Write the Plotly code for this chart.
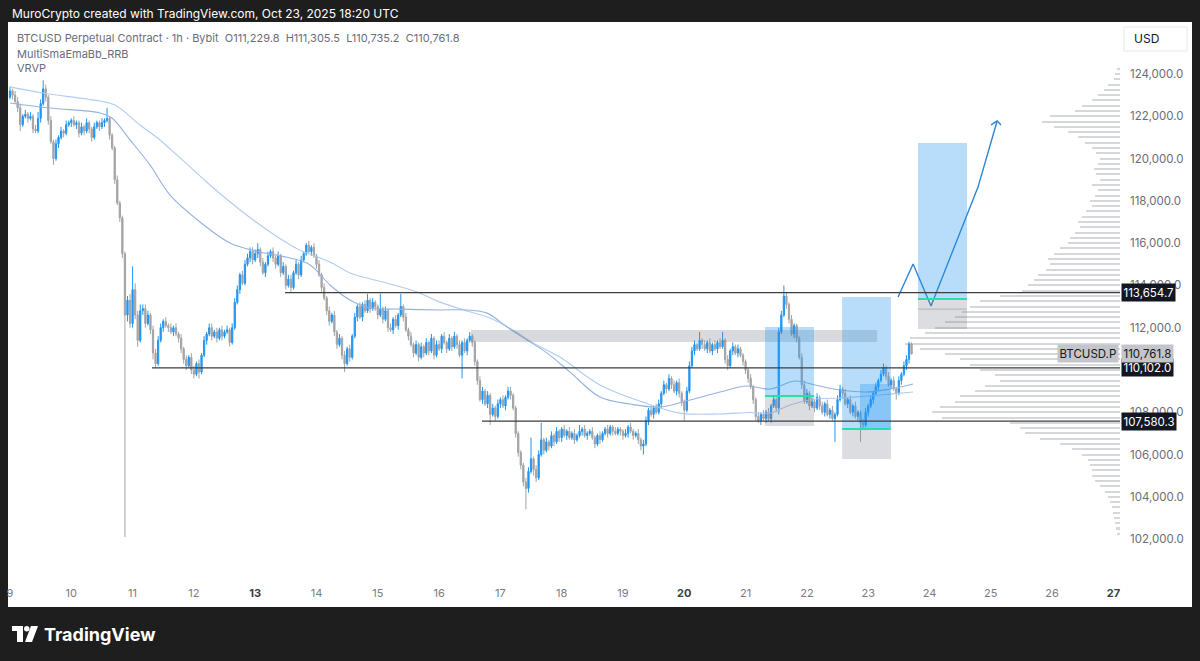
import plotly.graph_objects as go

# ---------------- data (prices in thousands USD, hourly candles from Oct 9 00:00 UTC) ----------------
open_first = 122.9
close_d09 = [123.2, 123.0, 122.7, 122.4, 121.6, 122.0, 122.1, 121.9, 122.0, 121.4, 121.3, 121.9,
             122.6, 123.3, 122.9, 121.8, 120.8, 120.0, 120.7, 121.0, 121.3, 121.2, 121.6, 121.7]
close_d10 = [121.8, 121.6, 121.7, 121.2, 121.5, 121.3, 121.7, 121.4, 121.0, 121.5, 121.7, 121.5,
             121.7, 121.8, 121.9, 121.1, 120.5, 119.0, 117.9, 117.2, 115.5, 112.6, 113.3, 112.2]
close_d11 = [113.8, 112.6, 111.4, 112.8, 112.9, 112.2, 112.6, 111.9, 110.8, 110.3, 111.4, 112.0,
             112.3, 112.1, 112.0, 111.8, 112.0, 111.7, 111.5, 111.0, 110.5, 110.2, 110.6, 110.0]
close_d12 = [109.8, 110.3, 109.9, 110.7, 111.4, 111.7, 112.0, 111.6, 111.8, 111.5, 111.9, 111.6,
             111.8, 111.9, 111.3, 112.0, 113.2, 113.8, 114.5, 114.1, 115.0, 115.3, 115.6, 115.2]
close_d13 = [115.5, 115.7, 115.1, 114.6, 115.0, 115.4, 115.6, 115.3, 115.0, 115.4, 114.6, 114.9,
             114.0, 114.3, 113.9, 114.6, 115.0, 114.5, 115.2, 115.5, 115.9, 115.6, 115.8, 115.4]
close_d14 = [115.0, 114.5, 113.9, 113.4, 112.8, 112.3, 112.6, 111.8, 111.2, 111.5, 110.7, 110.3,
             111.0, 110.6, 111.6, 112.5, 113.0, 112.5, 113.1, 112.8, 113.3, 112.9, 113.2, 113.0]
close_d15 = [112.6, 112.9, 112.4, 112.8, 112.0, 111.9, 112.4, 112.1, 112.6, 113.0, 112.5, 111.9,
             111.6, 111.2, 110.8, 111.2, 110.6, 111.1, 110.8, 111.3, 110.9, 111.5, 110.7, 111.2]
close_d16 = [111.0, 111.6, 111.3, 111.0, 111.5, 111.1, 111.6, 111.2, 110.7, 111.3, 110.9, 111.4,
             111.6, 111.3, 110.4, 109.5, 108.6, 109.0, 108.4, 108.8, 107.9, 108.2, 107.8, 108.4]
close_d17 = [108.6, 108.3, 108.7, 109.0, 108.8, 108.2, 107.0, 106.1, 105.5, 104.7, 104.4, 105.2,
             105.8, 105.3, 104.9, 106.0, 106.7, 106.2, 106.6, 106.4, 106.9, 106.6, 107.1, 106.8]
close_d18 = [107.2, 106.9, 107.1, 106.8, 107.0, 106.7, 106.9, 107.1, 107.2, 106.9, 107.0, 107.1,
             106.8, 106.5, 106.9, 106.7, 107.0, 107.2, 107.0, 107.3, 107.1, 107.0, 107.2, 107.1]
close_d19 = [106.9, 107.0, 107.3, 107.1, 106.9, 107.0, 106.7, 106.4, 106.5, 107.6, 108.1, 107.9,
             108.2, 108.0, 108.4, 108.9, 109.3, 109.1, 109.6, 109.3, 109.0, 109.4, 108.9, 108.5]
close_d20 = [108.1, 109.0, 110.2, 110.9, 111.2, 111.0, 111.4, 111.2, 111.0, 111.3, 110.9, 111.2,
             111.0, 111.3, 111.1, 111.4, 110.5, 110.2, 110.9, 111.1, 110.8, 111.0, 110.7, 110.4]
close_d21 = [110.0, 109.6, 109.2, 108.6, 107.8, 107.6, 107.9, 107.7, 108.0, 107.7, 108.3, 108.6,
             108.2, 111.8, 112.6, 113.5, 113.1, 112.4, 111.7, 112.1, 111.5, 110.6, 109.3, 108.5]
close_d22 = [108.9, 108.3, 108.5, 108.2, 108.7, 108.3, 108.0, 108.4, 107.9, 108.1, 107.7, 107.9,
             108.6, 109.1, 108.9, 108.4, 108.6, 108.0, 108.3, 107.8, 108.0, 107.5, 107.4, 108.0]
close_d23 = [108.3, 108.6, 108.9, 109.2, 109.5, 109.8, 110.1, 109.7, 109.3, 109.5, 109.1, 108.9,
             109.5, 109.8, 110.2, 110.5, 111.2298, 110.7618]

# wick lengths above / below the body, in units of 100 USD
uw_d09 = [2,1,2,2,2,1,2,1,2,1,2,3,2,4,2,1,2,1,2,1,2,1,2,1]
lw_d09 = [1,2,1,2,3,1,1,2,1,2,1,1,2,1,2,2,1,3,1,2,1,2,1,1]
uw_d10 = [1,2,1,1,2,1,2,1,1,2,1,1,2,1,5,1,1,1,2,1,1,1,2,3]
lw_d10 = [2,1,2,2,1,2,1,2,2,1,1,2,1,2,1,2,1,2,1,2,2,105,3,2]
uw_d11 = [11,3,2,3,2,2,2,1,2,2,2,2,1,2,1,2,1,2,1,2,1,2,1,2]
lw_d11 = [2,2,3,1,2,2,1,2,3,2,1,1,2,1,2,1,2,1,2,2,2,2,1,2]
uw_d12 = [2,1,2,1,2,1,2,2,1,2,1,2,1,2,1,2,2,2,1,2,2,2,2,2]
lw_d12 = [2,1,3,1,1,2,1,2,1,2,1,2,1,1,2,1,1,1,2,1,1,1,2,2]
uw_d13 = [2,3,1,2,1,2,1,2,1,2,1,2,1,2,2,1,2,1,2,1,1,2,1,2]
lw_d13 = [1,2,2,1,2,1,1,2,2,1,2,1,2,1,2,1,1,2,1,1,1,1,2,1]
uw_d14 = [1,2,1,2,1,2,1,2,1,2,1,2,1,2,1,2,1,2,1,2,3,1,2,1]
lw_d14 = [2,1,2,1,2,2,1,2,2,1,2,4,1,2,1,1,2,1,2,1,1,2,1,2]
uw_d15 = [1,7,1,2,1,2,1,2,1,6,1,2,1,2,1,2,1,2,1,2,1,2,1,2]
lw_d15 = [2,1,2,1,2,1,2,1,2,1,2,1,2,1,2,1,2,1,2,1,2,1,2,1]
uw_d16 = [2,1,2,1,2,1,2,1,2,1,2,1,2,1,1,1,2,2,1,2,1,2,1,2]
lw_d16 = [1,2,1,2,1,2,1,2,1,11,1,2,1,2,2,2,1,2,1,2,5,1,2,1]
uw_d17 = [1,2,1,2,2,1,1,1,1,1,2,2,10,1,2,2,8,1,2,1,2,1,2,1]
lw_d17 = [2,1,2,1,2,1,2,2,2,2,10,2,1,3,2,1,1,2,1,2,1,2,1,2]
uw_d18 = [1,2,1,2,1,2,1,3,1,2,1,1,2,1,1,2,1,1,2,1,1,2,1,1]
lw_d18 = [2,1,2,1,1,2,1,1,2,1,2,1,1,2,1,2,1,1,2,1,2,1,1,2]
uw_d19 = [1,2,1,2,1,1,2,1,2,2,1,2,1,2,2,1,2,1,2,1,2,1,2,1]
lw_d19 = [2,1,2,1,2,1,2,2,4,1,2,1,2,1,1,2,1,2,1,2,1,2,2,2]
uw_d20 = [1,2,2,2,2,1,4,1,2,1,2,1,2,1,2,4,1,2,1,2,1,2,1,1]
lw_d20 = [5,1,1,1,2,1,1,2,1,2,1,2,1,2,1,1,2,2,1,2,1,2,1,2]
uw_d21 = [1,1,2,1,1,2,1,2,1,2,1,2,1,2,2,5,2,1,2,1,1,1,2,2]
lw_d21 = [2,2,1,2,2,1,2,1,2,1,2,1,2,3,1,1,2,2,1,2,2,1,2,1]
uw_d22 = [2,1,2,1,2,1,2,1,2,1,2,1,2,2,1,2,1,2,1,2,1,1,2,2]
lw_d22 = [1,2,1,2,1,2,1,2,1,2,1,11,1,1,2,1,2,1,2,1,2,9,2,1]
uw_d23 = [1,2,1,2,1,2,2,1,2,1,2,1,2,1,2,2,1,0.757]
lw_d23 = [2,1,2,1,2,1,1,2,1,2,1,3,1,2,1,2,2,0.266]

# moving averages (MultiSmaEmaBb), sampled at hour positions
ma_fast_h = [0, 15.7, 35.2, 39.9, 47.0, 54.8, 62.6, 74.4, 86.1, 97.9, 109.6, 117.5, 125.3, 133.1, 141.0,
             152.7, 168.4, 178.9, 186.8, 194.6, 202.4, 210.3, 219.3, 231.0, 242.8, 254.5, 266.2, 278.0,
             288.6, 297.6, 307.4, 315.2, 325.0, 335.6, 344.6, 353.6]
ma_fast_p = [122.63, 122.39, 122.16, 121.92, 120.88, 119.70, 118.28, 117.00, 116.01, 115.58, 115.30, 114.97,
             114.02, 113.31, 112.93, 112.88, 112.84, 112.84, 112.69, 112.03, 111.42, 110.80, 109.90, 108.72,
             108.39, 108.25, 108.58, 108.96, 109.24, 109.10, 109.48, 109.29, 109.05, 108.96, 109.10, 109.34]
ma_slow_h = [0, 12.9, 35.2, 41.1, 50.9, 58.7, 66.6, 78.3, 90.1, 101.8, 113.5, 125.3, 133.1, 146.0, 159.4,
             168.4, 178.9, 187.9, 196.9, 204.8, 215.3, 231.0, 247.8, 262.3, 278.0, 289.7, 297.6, 305.4,
             315.2, 325.0, 335.6, 344.6, 353.6]
ma_slow_p = [123.39, 123.10, 122.72, 122.53, 121.59, 120.88, 120.03, 118.75, 117.57, 116.53, 115.67, 115.11,
             114.59, 114.16, 113.69, 113.21, 112.79, 112.46, 111.89, 111.28, 110.61, 109.29, 108.48, 107.96,
             107.92, 107.99, 107.96, 108.34, 108.63, 108.67, 108.77, 108.86, 108.96]

# visible-range volume profile (row width, arbitrary units), rows from 124.25k down to 102.25k
vp_top, vp_step = 124.25, 0.25
vp_volume = [3, 5, 6, 12, 16, 22, 28, 38, 45, 70, 78, 66, 52, 42, 35, 28, 24, 20, 22, 26, 24, 20, 28, 22,
             25, 30, 28, 34, 38, 42, 40, 45, 50, 52, 60, 66, 72, 70, 74, 82, 86, 92, 98, 120, 140, 150,
             158, 165, 175, 185, 195, 210, 215, 200, 175, 160, 150, 140, 125, 120, 135, 145, 160, 165,
             180, 188, 178, 110, 100, 95, 80, 60, 48, 38, 32, 30, 28, 28, 25, 20, 15, 12, 10, 8, 7, 6,
             5, 4, 3]

# drawn levels and positions
level_prices = [113.6547, 110.102, 107.5803]
level_labels = ["113,654.7", "110,102.0", "107,580.3"]
level_start_h = [107.7, 55.6, 184.8]
last_price, last_label = 110.7618, "110,761.8"
zone = dict(h0=180.5, h1=339.5, p0=111.32, p1=111.89)
positions = [  # (start h, end h, target, entry, stop)
    (295.6, 314.8, 112.03, 108.77, 107.35),
    (325.8, 344.9, 113.45, 107.21, 105.79),
    (355.5, 374.7, 120.74, 113.36, 111.94),
]
extra_target = (332.8, 344.9, 109.34, 107.21)
arrow_h = [347.7, 353.6, 360.6, 370.0, 379.0, 386.5]
arrow_p = [113.45, 115.01, 113.03, 115.91, 118.65, 121.78]
arrowhead_h = [384.1, 386.5, 388.0]
arrowhead_p = [121.59, 121.78, 121.59]

price_ticks = [102, 104, 106, 108, 112, 114, 116, 118, 120, 122, 124]
day_ticks = list(range(9, 28))
bold_days = [13, 20, 27]

# ---------------- build ----------------
closes = (close_d09 + close_d10 + close_d11 + close_d12 + close_d13 + close_d14 + close_d15 + close_d16 +
          close_d17 + close_d18 + close_d19 + close_d20 + close_d21 + close_d22 + close_d23)
uw = (uw_d09 + uw_d10 + uw_d11 + uw_d12 + uw_d13 + uw_d14 + uw_d15 + uw_d16 + uw_d17 + uw_d18 + uw_d19 +
      uw_d20 + uw_d21 + uw_d22 + uw_d23)
lw = (lw_d09 + lw_d10 + lw_d11 + lw_d12 + lw_d13 + lw_d14 + lw_d15 + lw_d16 + lw_d17 + lw_d18 + lw_d19 +
      lw_d20 + lw_d21 + lw_d22 + lw_d23)
hours = list(range(len(closes)))
opens = [open_first] + closes[:-1]
highs = [max(o, c) + u * 0.1 for o, c, u in zip(opens, closes, uw)]
lows = [min(o, c) - l * 0.1 for o, c, l in zip(opens, closes, lw)]
vp_levels = [vp_top - i * vp_step for i in range(len(vp_volume))]

W, H = 1200, 661
ML, MR, MT, MB = 8, 80, 22, 76
PW, PH = W - ML - MR, H - MT - MB
X_RANGE = [-0.78, 434.6]
Y_RANGE = [99.83, 126.46]


def PX(px):
    return (px - ML) / PW


def PY(py):
    return (H - MB - py) / PH


FONT = "Inter, Roboto, 'Noto Sans', sans-serif"
UP, DOWN = "#2196F3", "#A3A3A6"

fig = go.Figure()

# volume profile (base x axis, reversed so rows grow leftwards from the price scale)
fig.add_trace(go.Bar(
    x=vp_volume, y=vp_levels, orientation="h", width=0.1, xaxis="x", yaxis="y",
    marker=dict(color="#d6d7db", line=dict(width=0)), hoverinfo="skip", showlegend=False))

fig.add_trace(go.Scatter(x=ma_slow_h, y=ma_slow_p, mode="lines", xaxis="x2", yaxis="y",
                         line=dict(color="#afcdf0", width=1.1, shape="spline"), hoverinfo="skip",
                         showlegend=False))
fig.add_trace(go.Scatter(x=ma_fast_h, y=ma_fast_p, mode="lines", xaxis="x2", yaxis="y",
                         line=dict(color="#95b2e0", width=1.1, shape="spline"), hoverinfo="skip",
                         showlegend=False))

fig.add_trace(go.Candlestick(
    x=hours, open=opens, high=highs, low=lows, close=closes, xaxis="x2", yaxis="y",
    increasing=dict(line=dict(color=UP, width=1), fillcolor=UP),
    decreasing=dict(line=dict(color=DOWN, width=1), fillcolor=DOWN),
    whiskerwidth=0, showlegend=False, hoverinfo="skip"))

# forecast arrow
fig.add_trace(go.Scatter(x=arrow_h, y=arrow_p, mode="lines", xaxis="x2", yaxis="y",
                         line=dict(color="#2a86d6", width=1.4), hoverinfo="skip", showlegend=False))
fig.add_trace(go.Scatter(x=arrowhead_h, y=arrowhead_p, mode="lines", xaxis="x2", yaxis="y",
                         line=dict(color="#2a86d6", width=1.4), hoverinfo="skip", showlegend=False))

shapes = []
# white chart panel
shapes.append(dict(type="rect", xref="paper", yref="paper", x0=PX(8), x1=PX(1192), y0=PY(607), y1=PY(22),
                   fillcolor="#ffffff", line=dict(width=0), layer="below"))
# supply zone
shapes.append(dict(type="rect", xref="x2", yref="y", x0=zone["h0"], x1=zone["h1"], y0=zone["p0"],
                   y1=zone["p1"], fillcolor="rgba(120,123,134,0.28)", line=dict(width=0), layer="above"))
# positions
for h0, h1, tp, en, sl in positions:
    shapes.append(dict(type="rect", xref="x2", yref="y", x0=h0, x1=h1, y0=en, y1=tp,
                       fillcolor="rgba(33,150,243,0.32)", line=dict(width=0), layer="above"))
    shapes.append(dict(type="rect", xref="x2", yref="y", x0=h0, x1=h1, y0=sl, y1=en,
                       fillcolor="rgba(120,123,134,0.26)", line=dict(width=0), layer="above"))
h0, h1, tp, en = extra_target
shapes.append(dict(type="rect", xref="x2", yref="y", x0=h0, x1=h1, y0=en, y1=tp,
                   fillcolor="rgba(33,150,243,0.32)", line=dict(width=0), layer="above"))
shapes.append(dict(type="line", xref="x2", yref="y", x0=positions[2][0], x1=positions[2][1],
                   y0=112.88, y1=112.88, line=dict(color="rgba(120,123,134,0.45)", width=1), layer="above"))
# horizontal levels
for p, hs in zip(level_prices, level_start_h):
    shapes.append(dict(type="line", xref="x2", yref="y", x0=hs, x1=X_RANGE[1], y0=p, y1=p,
                       line=dict(color="#3d3d3f", width=1.3), layer="above"))
for h0, h1, tp, en, sl in positions:
    shapes.append(dict(type="line", xref="x2", yref="y", x0=h0, x1=h1, y0=en, y1=en,
                       line=dict(color="#22e3a6", width=2), layer="above"))

# USD box
shapes.append(dict(type="rect", xref="paper", yref="paper", x0=PX(1124), x1=PX(1187), y0=PY(51), y1=PY(27),
                   fillcolor="#ffffff", line=dict(color="#e6e7ea", width=1), layer="above"))
# TradingView logo icon
logo = dict(xref="paper", yref="paper", fillcolor="#ffffff", line=dict(width=0), layer="above")
shapes.append(dict(type="rect", x0=PX(12), x1=PX(23), y0=PY(631), y1=PY(626), **logo))
shapes.append(dict(type="rect", x0=PX(17), x1=PX(23), y0=PY(642), y1=PY(626), **logo))
shapes.append(dict(type="circle", x0=PX(24), x1=PX(29.5), y0=PY(631.5), y1=PY(626), **logo))
shapes.append(dict(type="path",
                   path=f"M {PX(31)} {PY(626)} L {PX(38)} {PY(626)} L {PX(32)} {PY(642)} L {PX(25)} {PY(642)} Z",
                   **logo))

ann = []
ann.append(dict(xref="paper", yref="paper", x=PX(10), y=PY(13), xanchor="left", yanchor="middle",
                text="MuroCrypto created with TradingView.com, Oct 23, 2025 18:20 UTC", showarrow=False,
                font=dict(family=FONT, size=12, color="#ffffff")))
ann.append(dict(xref="paper", yref="paper", x=PX(15), y=PY(38), xanchor="left", yanchor="middle",
                text="BTCUSD Perpetual Contract · 1h · Bybit\u00a0\u00a0O111,229.8\u00a0\u00a0H111,305.5"
                     "\u00a0\u00a0L110,735.2\u00a0\u00a0C110,761.8",
                showarrow=False, font=dict(family=FONT, size=11, color="#6a6d78")))
ann.append(dict(xref="paper", yref="paper", x=PX(15), y=PY(54), xanchor="left", yanchor="middle",
                text="MultiSmaEmaBb_RRB", showarrow=False, font=dict(family=FONT, size=11, color="#6a6d78")))
ann.append(dict(xref="paper", yref="paper", x=PX(15), y=PY(68), xanchor="left", yanchor="middle",
                text="VRVP", showarrow=False, font=dict(family=FONT, size=11, color="#6a6d78")))
ann.append(dict(xref="paper", yref="paper", x=PX(1132), y=PY(39), xanchor="left", yanchor="middle",
                text="USD", showarrow=False, font=dict(family=FONT, size=12, color="#131722")))
for p, lab in zip(level_prices, level_labels):
    ann.append(dict(xref="paper", yref="y", x=PX(1121), y=p, xanchor="left", yanchor="middle", text=lab,
                    showarrow=False, bgcolor="#131722", borderpad=1.5,
                    font=dict(family=FONT, size=11.5, color="#ffffff")))
ann.append(dict(xref="paper", yref="y", x=PX(1121), y=last_price, xanchor="left", yanchor="middle",
                text=last_label, showarrow=False, bgcolor="#c3c5cb", borderpad=1.5,
                font=dict(family=FONT, size=11.5, color="#131722")))
ann.append(dict(xref="paper", yref="y", x=PX(1119), y=last_price, xanchor="right", yanchor="middle",
                text="BTCUSD.P", showarrow=False, bgcolor="#c3c5cb", borderpad=1.5,
                font=dict(family=FONT, size=11.5, color="#131722")))
ann.append(dict(xref="paper", yref="paper", x=PX(42), y=PY(634), xanchor="left", yanchor="middle",
                text="<b>TradingView</b>", showarrow=False, font=dict(family=FONT, size=18, color="#ffffff")))

tick_text = []
for d in day_ticks:
    if d in bold_days:
        tick_text.append(f'<span style="color:#3a3d46"><b>{d}</b></span>')
    else:
        tick_text.append(str(d))

fig.update_layout(
    width=W, height=H, autosize=False,
    margin=dict(l=ML, r=MR, t=MT, b=MB, pad=0),
    paper_bgcolor="#1e1e1e", plot_bgcolor="#ffffff",
    showlegend=False, bargap=0,
    shapes=shapes, annotations=ann,
    xaxis=dict(range=[PW, 0], visible=False, fixedrange=True),
    xaxis2=dict(overlaying="x", anchor="y", side="bottom", range=X_RANGE,
                tickvals=[(d - 9) * 24 for d in day_ticks], ticktext=tick_text, ticks="",
                showgrid=False, zeroline=False, showline=False,
                tickfont=dict(family=FONT, size=11, color="#787b86"),
                rangeslider=dict(visible=False)),
    yaxis=dict(side="right", range=Y_RANGE, tickvals=price_ticks,
               ticktext=[f"{v * 1000:,.1f}" for v in price_ticks], ticks="", ticklabelstandoff=9,
               showgrid=False, zeroline=False, showline=False,
               tickfont=dict(family=FONT, size=11.5, color="#6a6d78")),
)

page_fix = ("document.documentElement.style.margin='0';document.body.style.margin='0';"
            "document.body.style.padding='0';document.body.style.overflow='hidden';"
            "document.body.style.background='#1e1e1e';")
fig.write_html("out.html", post_script=page_fix, config={"displayModeBar": False})
